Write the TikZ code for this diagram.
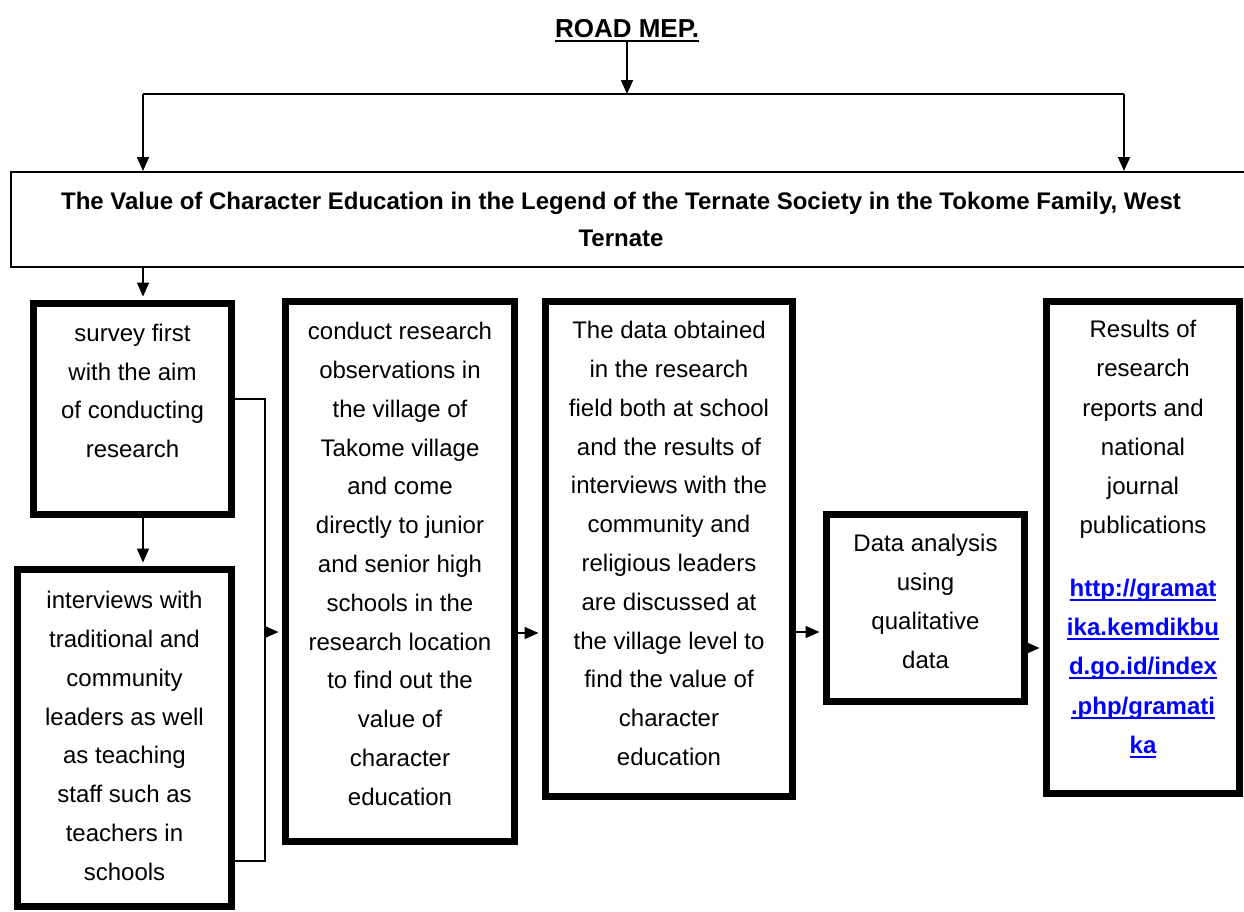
\documentclass[tikz,border=0pt]{standalone}
\usepackage{fontspec}
\setmainfont{Liberation Sans}
\usetikzlibrary{arrows.meta,calc}
\definecolor{linkblue}{RGB}{0,0,255}
\newcommand\myul[1]{\setbox0\hbox{#1}\rlap{\rule[-4.5pt]{\wd0}{2pt}}\box0}
\newcommand\lnk[1]{\textcolor{linkblue}{\bfseries\myul{#1}}}
\begin{document}
\begin{tikzpicture}[x=1pt,y=-1pt,
  thickbox/.style={draw=black, line width=7pt, inner sep=0pt},
  thinbox/.style={draw=black, line width=2pt, inner sep=0pt},
  txt/.style={align=center, inner sep=0pt, font=\fontsize{24pt}{38.8pt}\selectfont},
  conn/.style={line width=1.6pt},
  arr/.style={conn, -{Triangle[length=14pt,width=12pt]}},
  arrin/.style={arr, shorten >=3.5pt}]
\useasboundingbox (0,0) rectangle (1244,911);
\fill[white] (0,0) rectangle (1244,911);

% title
\node[inner sep=0pt, anchor=base, font=\fontsize{26pt}{30pt}\selectfont\bfseries] (title) at (627,37) {\myul{ROAD MEP.}};
\coordinate (hl) at (143,94);
\coordinate (hm) at (627,94);
\coordinate (hr) at (1124,94);

% main box
\node[thinbox, minimum width=1238pt, minimum height=95pt] (main) at (630,219.5) {};
\node[txt, font=\fontsize{24pt}{37pt}\selectfont\bfseries] (tm) at (621,219.5)
  {The Value of Character Education in the Legend of the Ternate Society in the Tokome Family, West\\Ternate};

% boxes
\node[thickbox, minimum width=198pt, minimum height=211pt] (b1) at (132.5,409) {};
\node[thickbox, minimum width=214pt, minimum height=337pt] (b2) at (124.5,738) {};
\node[thickbox, minimum width=229pt, minimum height=540pt] (b3) at (400,571.5) {};
\node[thickbox, minimum width=247pt, minimum height=495pt] (b4) at (669,549) {};
\node[thickbox, minimum width=198pt, minimum height=187pt] (b5) at (925.5,608) {};
\node[thickbox, minimum width=193pt, minimum height=492pt] (b6) at (1143,547.5) {};

\node[txt] (t1) at (132.5,391) {survey first\\with the aim\\of conducting\\research};
\node[txt] (t2) at (124.5,736) {interviews with\\traditional and\\community\\leaders as well\\as teaching\\staff such as\\teachers in\\schools};
\node[txt] (t3) at (400,564) {conduct research\\observations in\\the village of\\Takome village\\and come\\directly to junior\\and senior high\\schools in the\\research location\\to find out the\\value of\\character\\education};
\node[txt] (t4) at (669,543.5) {The data obtained\\in the research\\field both at school\\and the results of\\interviews with the\\community and\\religious leaders\\are discussed at\\the village level to\\find the value of\\character\\education};
\node[txt] (t5) at (925.5,601.5) {Data analysis\\using\\qualitative\\data};
\node[txt, font=\fontsize{24pt}{39.3pt}\selectfont] (t6) at (1143,539)
  {Results of\\research\\reports and\\national\\journal\\publications\\[23pt]\lnk{http://gramat}\\\lnk{ika.kemdikbu}\\\lnk{d.go.id/index}\\\lnk{.php/gramati}\\\lnk{ka}};

% top connectors
\draw[arr] (title.south) -- (hm);
\draw[conn] (hl) -- (hr);
\draw[arr] (hl) -- (hl |- main.north);
\draw[arr] (hr) -- (hr |- main.north);

% left column
\draw[arrin] (main.south -| hl) -- (b1.north -| hl);
\draw[arrin] (b1.south -| hl) -- (b2.north -| hl);

% bracket
\coordinate (br1) at (265,399);
\coordinate (br2) at (265,861);
\coordinate (bm) at (265,632);
\draw[line width=1.3pt] (b1.east |- br1) -- (br1) -- (br2) -- (b2.east |- br2);
\draw[arrin] (bm) -- (b3.west |- bm);

% horizontal flow
\coordinate (y34) at (0,633);
\coordinate (y45) at (0,632);
\coordinate (y56) at (0,648);
\draw[arrin] (b3.east |- y34) -- (b4.west |- y34);
\draw[arrin] (b4.east |- y45) -- (b5.west |- y45);
\draw[arrin] (b5.east |- y56) -- (b6.west |- y56);
\end{tikzpicture}
\end{document}
